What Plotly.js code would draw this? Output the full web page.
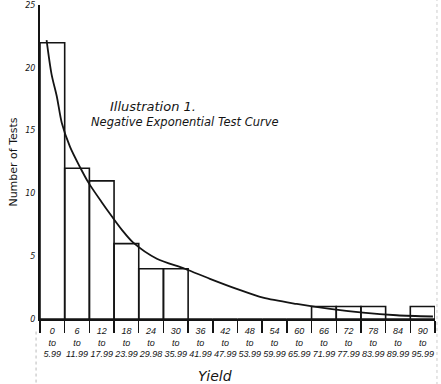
<!DOCTYPE html>
<html>
<head>
<meta charset="utf-8">
<script src="https://cdn.plot.ly/plotly-3.0.1.min.js"></script>
<style>
  html, body { margin: 0; padding: 0; background: #fff; }
  #chart { width: 441px; height: 384px; }
</style>
</head>
<body>
<div id="chart"></div>
<script>
// Yield classes (lower bound of each 6-unit class) and their upper bounds
const binStart = [0, 6, 12, 18, 24, 30, 36, 42, 48, 54, 60, 66, 72, 78, 84, 90];
const binEndText = ["5.99", "11.99", "17.99", "23.99", "29.98", "35.99", "41.99", "47.99",
                    "53.99", "59.99", "65.99", "71.99", "77.99", "83.99", "89.99", "95.99"];
// Number of tests falling in each class
const counts = [22, 12, 11, 6, 4, 4, 0, 0, 0, 0, 0, 1, 1, 1, 0, 1];

// Fitted negative exponential curve (yield, number of tests)
const curveX = [1.6, 2.8, 4.1, 5.3, 7.3, 9.7, 11.7, 15.0, 17.4, 19.9, 22.6, 28.4, 35.2,
                41.3, 47.8, 54.2, 62.4, 70.5, 78.5, 86.7, 95.5];
const curveY = [22.2, 19.5, 17.7, 15.6, 13.7, 12.1, 10.9, 9.3, 8.2, 7.1, 6.1, 4.8, 4.0,
                3.2, 2.4, 1.7, 1.2, 0.8, 0.5, 0.3, 0.2];

const yTicks = [0, 5, 10, 15, 20, 25];

const binWidth = 6;
const binEdges = binStart.concat([binStart[binStart.length - 1] + binWidth]);
const binCenters = binStart.map(s => s + binWidth / 2);
const binLabels = binStart.map((s, i) => s + "<br>to<br>" + binEndText[i]);

const ink = "#141414";
const hand = "'DejaVu Sans', 'Noto Sans', sans-serif";
const narrow = "'Liberation Sans', Arial, sans-serif";

const bars = {
  type: "bar",
  x: binStart,
  y: counts,
  width: binWidth,
  offset: 0,
  marker: { color: "rgba(255,255,255,0)", line: { color: ink, width: 1.6 } },
  hoverinfo: "x+y",
  showlegend: false
};

const curve = {
  type: "scatter",
  mode: "lines",
  x: curveX,
  y: curveY,
  line: { color: ink, width: 1.8, shape: "spline", smoothing: 0.8 },
  showlegend: false
};

const layout = {
  width: 441,
  height: 384,
  margin: { l: 40, r: 6, t: 5, b: 65 },
  paper_bgcolor: "#fff",
  plot_bgcolor: "#fff",
  bargap: 0,
  font: { family: hand, color: ink },
  xaxis: {
    range: [0, 96],
    tickmode: "array",
    tickvals: binCenters,
    ticktext: binLabels,
    tickangle: 0,
    ticks: "",
    ticklabelstandoff: 2,
    tickfont: { size: 9, family: narrow, style: "italic", color: ink },
    minor: { tickmode: "array", tickvals: binEdges, ticks: "outside", ticklen: 12,
             tickwidth: 1.4, tickcolor: ink, showgrid: false },
    showgrid: false,
    zeroline: false,
    showline: true,
    linecolor: ink,
    linewidth: 2,
    fixedrange: true
  },
  yaxis: {
    range: [0, 25],
    tickmode: "array",
    tickvals: yTicks,
    ticks: "",
    tickfont: { size: 8, family: hand, style: "italic", color: ink },
    ticklabelstandoff: 1,
    showgrid: false,
    zeroline: false,
    showline: true,
    linecolor: ink,
    linewidth: 2,
    fixedrange: true,
    title: { text: "Number of Tests", font: { size: 11, family: hand, color: ink }, standoff: 5 }
  },
  annotations: [
    { text: "Illustration 1.", xref: "paper", yref: "paper", x: 0.285, y: 0.677,
      xanchor: "center", yanchor: "middle", showarrow: false,
      font: { size: 13, family: hand, style: "italic", color: ink } },
    { text: "Negative Exponential Test Curve", xref: "paper", yref: "paper", x: 0.366, y: 0.627,
      xanchor: "center", yanchor: "middle", showarrow: false,
      font: { size: 11.5, family: hand, style: "italic", color: ink } },
    { text: "Yield", xref: "paper", yref: "paper", x: 0.443, y: -0.18,
      xanchor: "center", yanchor: "middle", showarrow: false,
      font: { size: 14, family: hand, style: "italic", color: ink } }
  ],
  shapes: [
    { type: "line", xref: "paper", yref: "paper", x0: -0.01, x1: -0.01, y0: -0.04, y1: -0.21,
      line: { color: "#bbb", width: 1, dash: "dot" } },
    { type: "line", xref: "paper", yref: "paper", x0: 1.005, x1: 1.005, y0: -0.21, y1: 1.016,
      line: { color: "#ccc", width: 1, dash: "dot" } }
  ]
};

Plotly.newPlot("chart", [bars, curve], layout, { displayModeBar: false, staticPlot: true });
</script>
</body>
</html>
